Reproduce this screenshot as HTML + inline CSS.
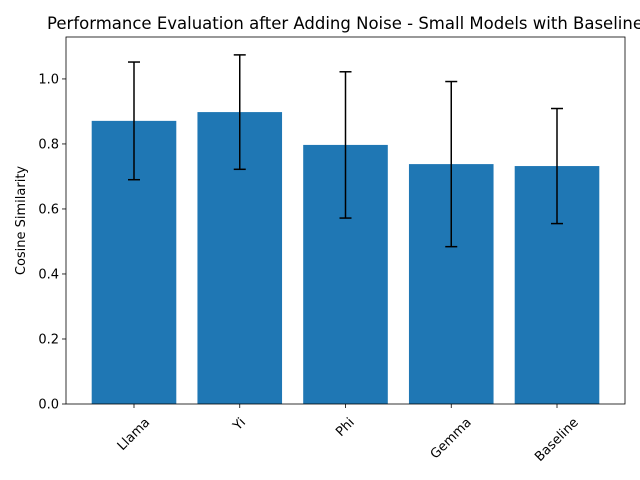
<!DOCTYPE html>
<html><head><meta charset="utf-8"><style>
body{margin:0;background:#fff;}
svg{display:block;font-family:"DejaVu Sans","Liberation Sans",sans-serif;}
</style></head><body>
<svg id="chart" width="640" height="480"></svg>
<script>
const categories=["Llama","Yi","Phi","Gemma","Baseline"];
const values=[0.871,0.898,0.797,0.738,0.732];
const errors=[0.181,0.176,0.225,0.254,0.177];
const yTicks=[0.0,0.2,0.4,0.6,0.8,1.0];
const tickLabels=["0.0","0.2","0.4","0.6","0.8","1.0"];
const ns="http://www.w3.org/2000/svg";
const svg=document.getElementById('chart');
const L=66,R=625,T=37,B=404,yMax=1.129,xMin=-0.643,xMax=4.643;
const y=v=>B-(v/yMax)*(B-T);
const x=i=>L+(i-xMin)/(xMax-xMin)*(R-L);
function mk(tag,attrs,parent){const e=document.createElementNS(ns,tag);for(const k in attrs)e.setAttribute(k,attrs[k]);(parent||svg).appendChild(e);return e;}
const bw=(x(0.4)-x(-0.4));
categories.forEach((c,i)=>{
 const b=mk('rect',{x:x(i)-bw/2,y:y(values[i]),width:bw,height:B-y(values[i]),fill:'#1f77b4'});
 
 
 const g=mk('g',{stroke:'#000','stroke-width':1.5});
 
 
 const hi=y(values[i]+errors[i]),lo=y(values[i]-errors[i]);
 mk('line',{x1:x(i),x2:x(i),y1:hi,y2:lo},g);
 mk('line',{x1:x(i)-6,x2:x(i)+6,y1:hi,y2:hi},g);
 mk('line',{x1:x(i)-6,x2:x(i)+6,y1:lo,y2:lo},g);
 mk('line',{x1:x(i),x2:x(i),y1:B,y2:B+4,stroke:'#000','stroke-width':0.8});
 const t=mk('text',{x:0,y:0,'font-size':13,'text-anchor':'middle','dominant-baseline':'central'});
 t.textContent=c;
 const w=t.getComputedTextLength(),h=13;
 const s=(w+h)*0.7071;
 t.setAttribute('transform',`translate(${x(i)},${B+12+s/2}) rotate(-45)`);
 
 
});
yTicks.forEach((v,k)=>{
 mk('line',{x1:L-4,x2:L,y1:y(v),y2:y(v),stroke:'#000','stroke-width':0.8});
 const t=mk('text',{x:L-7,y:y(v)+4.5,'font-size':13,'text-anchor':'end'});
 t.textContent=tickLabels[k];
 
 
});
const f=mk('rect',{x:L,y:T,width:R-L,height:B-T,fill:'none',stroke:'#000','stroke-width':0.8});


const yt=mk('text',{x:0,y:0,'font-size':13,'text-anchor':'middle',transform:`translate(25,${(T+B)/2}) rotate(-90)`});
yt.textContent='Cosine Similarity';


const tt=mk('text',{x:345,y:29,'font-size':16.5,'text-anchor':'middle'});
tt.textContent='Performance Evaluation after Adding Noise - Small Models with Baseline';


</script>
</body></html>
